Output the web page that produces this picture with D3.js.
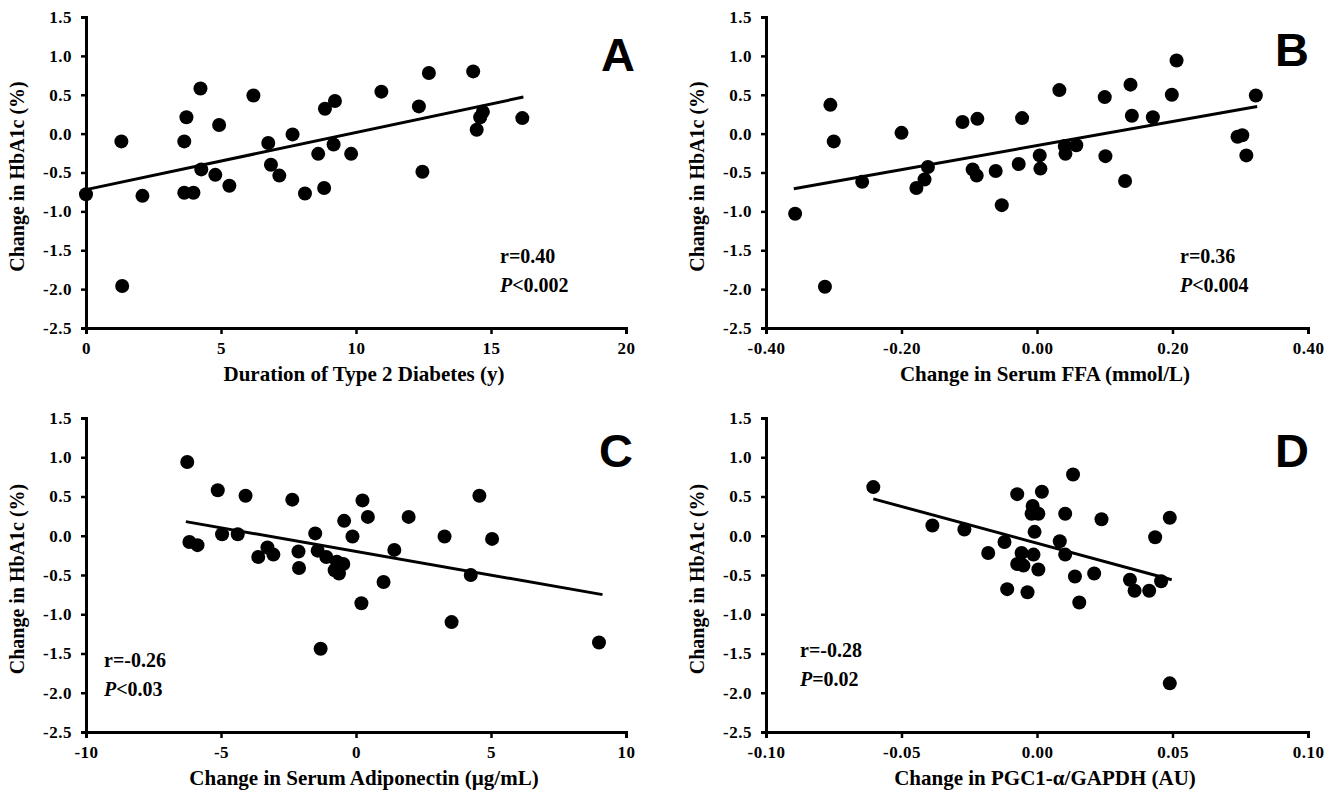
<!DOCTYPE html>
<html>
<head>
<meta charset="utf-8">
<script src="https://cdn.jsdelivr.net/npm/d3@7"></script>
<style>
  body { margin: 0; background: #fff; }
  text { font-family: "Liberation Serif", "Times New Roman", serif; font-weight: bold; }
</style>
</head>
<body>
<script>
// Panel A: duration of type 2 diabetes (y) vs change in HbA1c (%)
var durationX = [0, 1.31, 1.34, 2.09, 3.64, 3.72, 3.64, 3.98, 4.24, 4.27, 4.79, 4.93, 5.31, 6.2, 6.75, 6.85, 7.16, 7.65, 8.11, 8.6, 8.82, 8.85, 9.22, 9.17, 9.82, 10.94, 12.33, 12.46, 12.7, 14.34, 14.47, 14.6, 14.7, 16.16];
var hbA = [-0.78, -0.10, -1.96, -0.80, -0.10, 0.21, -0.76, -0.76, 0.58, -0.46, -0.53, 0.11, -0.67, 0.49, -0.12, -0.40, -0.54, -0.01, -0.77, -0.26, -0.70, 0.32, 0.42, -0.14, -0.26, 0.54, 0.35, -0.49, 0.78, 0.80, 0.05, 0.21, 0.28, 0.20];
var fitA = [[0, -0.72], [16.2, 0.47]];

// Panel B: change in serum FFA (mmol/L)
var ffaX = [-0.357, -0.313, -0.305, -0.30, -0.258, -0.20, -0.178, -0.166, -0.161, -0.11, -0.088, -0.095, -0.089, -0.061, -0.052, -0.027, -0.022, 0.004, 0.005, 0.033, 0.041, 0.042, 0.058, 0.10, 0.101, 0.13, 0.138, 0.14, 0.171, 0.199, 0.206, 0.296, 0.303, 0.309, 0.323];
var hbB = [-1.03, -1.97, 0.37, -0.10, -0.62, 0.01, -0.70, -0.59, -0.43, 0.15, 0.19, -0.46, -0.54, -0.48, -0.92, -0.39, 0.20, -0.28, -0.45, 0.56, -0.16, -0.26, -0.15, 0.47, -0.29, -0.61, 0.63, 0.23, 0.21, 0.50, 0.94, -0.04, -0.02, -0.28, 0.49];
var fitB = [[-0.359, -0.71], [0.325, 0.35]];

// Panel C: change in serum adiponectin (ug/mL)
var adipoX = [-6.25, -6.17, -5.87, -5.12, -4.96, -4.38, -4.09, -3.62, -3.28, -3.06, -2.36, -2.13, -2.11, -1.51, -1.42, -1.31, -1.10, -0.71, -0.79, -0.63, -0.47, -0.44, -0.13, 0.24, 0.20, 0.44, 1.02, 1.42, 1.95, 3.28, 3.54, 4.25, 4.57, 5.04, 9.0];
var hbC = [0.94, -0.08, -0.12, 0.58, 0.02, 0.02, 0.51, -0.27, -0.15, -0.24, 0.46, -0.20, -0.41, 0.03, -0.19, -1.44, -0.27, -0.33, -0.44, -0.48, -0.36, 0.19, -0.01, 0.45, -0.86, 0.24, -0.59, -0.18, 0.24, -0.01, -1.10, -0.50, 0.51, -0.04, -1.36];
var fitC = [[-6.3, 0.18], [9.13, -0.75]];

// Panel D: change in PGC1-alpha/GAPDH (AU)
var pgcX = [-0.0604, -0.0386, -0.0268, -0.018, -0.012, -0.011, -0.0073, -0.0073, -0.0057, -0.005, -0.0035, -0.0016, -0.002, -0.0013, -0.0009, 0.0005, 0.0005, 0.0018, 0.0084, 0.0104, 0.0104, 0.0133, 0.014, 0.0156, 0.0211, 0.0238, 0.0343, 0.036, 0.0414, 0.0436, 0.0458, 0.049, 0.049];
var hbD = [0.62, 0.13, 0.08, -0.22, -0.08, -0.68, 0.53, -0.36, -0.22, -0.38, -0.72, 0.38, 0.28, -0.24, 0.05, 0.28, -0.43, 0.56, -0.07, 0.28, -0.24, 0.78, -0.52, -0.85, -0.48, 0.21, -0.56, -0.70, -0.70, -0.02, -0.58, 0.23, -1.88];
var fitD = [[-0.0604, 0.47], [0.0497, -0.56]];

var yTicks = [1.5, 1.0, 0.5, 0.0, -0.5, -1.0, -1.5, -2.0, -2.5];
var yTitle = "Change in HbA1c (%)";

var panels = [
  { letter: "A", xs: durationX, ys: hbA, fit: fitA, domain: [0, 20], ticks: [0, 5, 10, 15, 20], fmt: "d",
    title: "Duration of Type 2 Diabetes (y)", r: "r=0.40", p: "<0.002",
    box: [86, 626, 17, 328], statPos: [500, 263], letterPos: [618, 71] },
  { letter: "B", xs: ffaX, ys: hbB, fit: fitB, domain: [-0.4, 0.4], ticks: [-0.4, -0.2, 0, 0.2, 0.4], fmt: ".2f",
    title: "Change in Serum FFA (mmol/L)", r: "r=0.36", p: "<0.004",
    box: [766, 1308, 17, 328], statPos: [1180, 263], letterPos: [1292, 66] },
  { letter: "C", xs: adipoX, ys: hbC, fit: fitC, domain: [-10, 10], ticks: [-10, -5, 0, 5, 10], fmt: "d",
    title: "Change in Serum Adiponectin (\u00b5g/mL)", r: "r=-0.26", p: "<0.03",
    box: [86, 626, 418, 732], statPos: [104, 667], letterPos: [616, 467] },
  { letter: "D", xs: pgcX, ys: hbD, fit: fitD, domain: [-0.1, 0.1], ticks: [-0.1, -0.05, 0, 0.05, 0.1], fmt: ".2f",
    title: "Change in PGC1-\u03b1/GAPDH (AU)", r: "r=-0.28", p: "=0.02",
    box: [766, 1308, 418, 732], statPos: [800, 657], letterPos: [1292, 467] }
];

// plain hyphen instead of unicode minus, as in the original figure
function hy(f) {
  var fn = d3.format(f);
  return function(d) { return fn(d).replace("\u2212", "-"); };
}

var svg = d3.select("body").append("svg")
  .attr("width", 1336)
  .attr("height", 797);

panels.forEach(function(pn) {
  var x0 = pn.box[0], x1 = pn.box[1], y0 = pn.box[2], y1 = pn.box[3];
  var x = d3.scaleLinear().domain(pn.domain).range([x0, x1]);
  var y = d3.scaleLinear().domain([-2.5, 1.5]).range([y1, y0]);
  var g = svg.append("g");

  // axes
  var xAxis = d3.axisBottom(x).tickValues(pn.ticks).tickFormat(hy(pn.fmt)).tickSize(6).tickPadding(8);
  var yAxis = d3.axisLeft(y).tickValues(yTicks).tickFormat(hy(".1f")).tickSize(5).tickPadding(9);

  var gx = g.append("g").attr("transform", "translate(0," + y1 + ")").call(xAxis);
  var gy = g.append("g").attr("transform", "translate(" + x0 + ",0)").call(yAxis);
  [gx, gy].forEach(function(a) {
    a.select(".domain").attr("stroke", "#000").attr("stroke-width", 3);
    a.selectAll(".tick line").attr("stroke", "#000").attr("stroke-width", 2.5);
    a.selectAll(".tick text").attr("fill", "#000")
      .style("font-size", "17px").style("letter-spacing", "0.5px");
  });

  // fit line
  g.append("line")
    .attr("x1", x(pn.fit[0][0])).attr("y1", y(pn.fit[0][1]))
    .attr("x2", x(pn.fit[1][0])).attr("y2", y(pn.fit[1][1]))
    .attr("stroke", "#000").attr("stroke-width", 3);

  // points
  g.selectAll("circle")
    .data(pn.xs)
    .enter()
    .append("circle")
    .attr("cx", function(d) { return x(d); })
    .attr("cy", function(d, i) { return y(pn.ys[i]); })
    .attr("r", 7)
    .attr("fill", "#000");

  // titles
  g.append("text")
    .attr("x", (x0 + x1) / 2 + 8)
    .attr("y", y1 + 53)
    .attr("text-anchor", "middle")
    .style("font-size", "21px")
    .text(pn.title);

  g.append("text")
    .attr("transform", "translate(" + (x0 - 62) + "," + ((y0 + y1) / 2 + 4) + ") rotate(-90)")
    .attr("text-anchor", "middle")
    .style("font-size", "20px")
    .text(yTitle);

  // stats
  g.append("text")
    .attr("x", pn.statPos[0]).attr("y", pn.statPos[1])
    .style("font-size", "20px")
    .text(pn.r);
  var pt = g.append("text")
    .attr("x", pn.statPos[0]).attr("y", pn.statPos[1] + 29)
    .style("font-size", "20px");
  pt.append("tspan").style("font-style", "italic").text("P");
  pt.append("tspan").text(pn.p);

  // panel letter
  g.append("text")
    .attr("x", pn.letterPos[0]).attr("y", pn.letterPos[1])
    .attr("text-anchor", "middle")
    .style("font-family", "'Liberation Sans', Arial, sans-serif")
    .style("font-size", "47px")
    .text(pn.letter);
});
</script>
</body>
</html>
